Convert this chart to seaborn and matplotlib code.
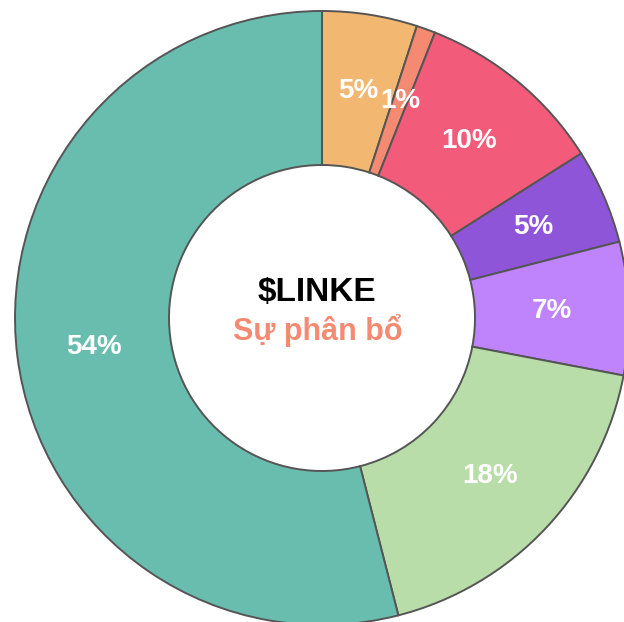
import matplotlib
matplotlib.use('Agg')
import matplotlib.pyplot as plt
import seaborn as sns

# Token allocation shares (clockwise from top)
shares = [5, 1, 10, 5, 7, 18, 54]
colors = ['#F2B872', '#F48A72', '#F25C7A', '#8F55D9', '#BF83FB', '#B8DDA9', '#69BDAE']
title = '$LINKE'
subtitle = 'Sự phân bổ'

sns.set_theme(style='white')
plt.rcParams['font.family'] = ['Liberation Sans', 'DejaVu Sans']

fig = plt.figure(figsize=(6.24, 6.22), dpi=100)
ax = fig.add_axes([0, 0, 1, 1])

# Donut, partly cut off by the right and bottom edges
R = 307.0
cx, cy = 322.0, 318.0
wedges, texts, autotexts = ax.pie(
    shares, colors=colors, radius=1, startangle=90, counterclock=False,
    autopct=lambda p: '%d%%' % round(p), pctdistance=0.75,
    wedgeprops=dict(width=1 - 153 / R, edgecolor='#555555', linewidth=1.4),
    textprops=dict(color='white', fontsize=20, fontweight='bold'))

ax.text(-5 / R, (cy - 292) / R, title, ha='center', va='center',
        fontsize=24, fontweight='bold', color='black')
ax.text(-4 / R, (cy - 331) / R, subtitle, ha='center', va='center',
        fontsize=22, fontweight='bold', color='#F48A72')

ax.set_xlim(-cx / R, (624 - cx) / R)
ax.set_ylim(-(622 - cy) / R, cy / R)
ax.set_aspect('auto')
ax.axis('off')

fig.savefig('out.png', dpi=100, facecolor='white')
